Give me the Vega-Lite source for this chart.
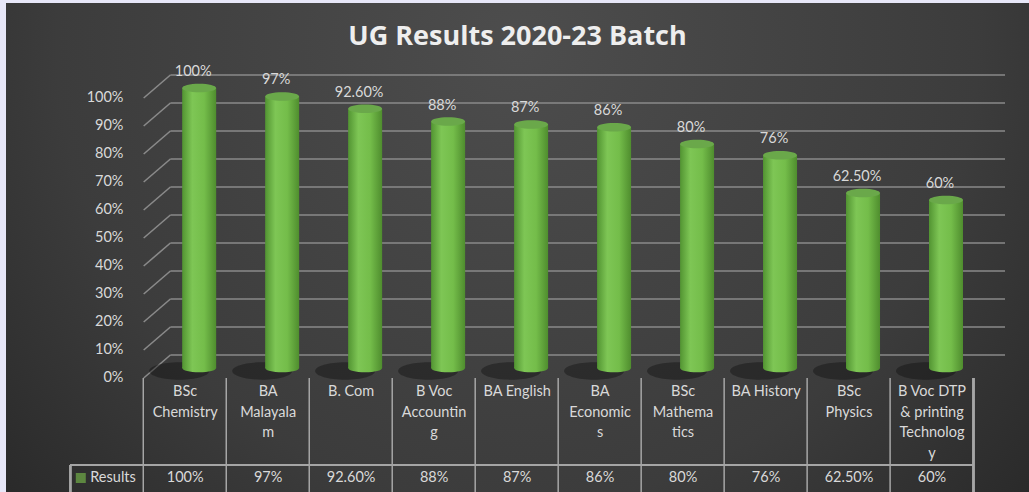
{
  "$schema": "https://vega.github.io/schema/vega-lite/v6.json",
  "width": 1023,
  "height": 489,
  "padding": {"left": 6, "top": 3, "right": 0, "bottom": 0},
  "autosize": {"type": "none"},
  "background": "#e7e7f8",
  "config": {
    "font": "Lato",
    "view": {
      "stroke": null,
      "fill": {"gradient": "radial", "x1": 0.5, "y1": 0.3, "r1": 0, "x2": 0.5, "y2": 0.3, "r2": 0.75,
        "stops": [{"offset": 0, "color": "#4d4d4d"}, {"offset": 0.6, "color": "#3c3c3c"}, {"offset": 1, "color": "#232323"}]}
    }
  },
  "datasets": {
    "results": [
      {"idx": 0, "label": "BSc\nChemistry", "v": 100, "pct": "100%"},
      {"idx": 1, "label": "BA\nMalayala\nm", "v": 97, "pct": "97%"},
      {"idx": 2, "label": "B. Com", "v": 92.6, "pct": "92.60%"},
      {"idx": 3, "label": "B Voc\nAccountin\ng", "v": 88, "pct": "88%"},
      {"idx": 4, "label": "BA English", "v": 87, "pct": "87%"},
      {"idx": 5, "label": "BA\nEconomic\ns", "v": 86, "pct": "86%"},
      {"idx": 6, "label": "BSc\nMathema\ntics", "v": 80, "pct": "80%"},
      {"idx": 7, "label": "BA History", "v": 76, "pct": "76%"},
      {"idx": 8, "label": "BSc\nPhysics", "v": 62.5, "pct": "62.50%"},
      {"idx": 9, "label": "B Voc DTP\n& printing\nTechnolog\ny", "v": 60, "pct": "60%"}
    ],
    "grid": [{"g": 0}, {"g": 10}, {"g": 20}, {"g": 30}, {"g": 40}, {"g": 50}, {"g": 60}, {"g": 70}, {"g": 80}, {"g": 90}, {"g": 100}]
  },
  "data": {"name": "results"},
  "layer": [
    {
      "data": {"name": "grid"},
      "mark": {"type": "rule", "color": "#8a8a8a", "strokeWidth": 1.6, "yOffset": -13, "y2Offset": -13},
      "encoding": {
        "x": {"datum": -0.178, "type": "quantitative", "scale": {"domain": [-2.099, 10.1086], "nice": false, "zero": false}, "axis": null},
        "x2": {"datum": 9.88},
        "y": {"field": "g", "type": "quantitative", "scale": {"domain": [-44.286, 130.357], "nice": false, "zero": false},
          "axis": {"values": [0, 10, 20, 30, 40, 50, 60, 70, 80, 90, 100], "labelExpr": "datum.value + '%'", "grid": false, "ticks": false, "domain": false,
            "offset": -117, "labelPadding": 0, "tickSize": 0, "labelOffset": 10, "labelFont": "Lato", "labelFontSize": 14.5, "labelColor": "#d9d9d9", "title": null}},
        "y2": {"field": "g"}
      }
    },
    {
      "data": {"name": "grid"},
      "mark": {"type": "rule", "color": "#8a8a8a", "strokeWidth": 1.6, "yOffset": 10, "y2Offset": -13},
      "encoding": {
        "x": {"datum": -0.5, "type": "quantitative"},
        "x2": {"datum": -0.178},
        "y": {"field": "g", "type": "quantitative"},
        "y2": {"field": "g"}
      }
    },
    {
      "data": {"values": [{"title": "UG Results 2020-23 Batch"}]},
      "mark": {"type": "text", "font": "Open Sans", "fontSize": 27, "fontWeight": "bold", "color": "#eeeeee", "align": "center", "baseline": "alphabetic"},
      "encoding": {
        "x": {"datum": 4.005, "type": "quantitative"},
        "y": {"datum": 115.4, "type": "quantitative"},
        "text": {"field": "title"}
      }
    },
    {
      "mark": {"type": "point", "shape": "M-1,0A1,0.29,0,1,0,1,0A1,0.29,0,1,0,-1,0Z", "filled": true, "color": "#0d0d0d", "opacity": 0.4, "size": 3600, "xOffset": -6, "yOffset": 3, "strokeWidth": 0},
      "encoding": {
        "x": {"field": "idx", "type": "quantitative"},
        "y": {"datum": 0, "type": "quantitative"}
      }
    },
    {
      "mark": {"type": "bar", "width": 34, "xOffset": 14,
        "color": {"gradient": "linear", "x1": 0, "y1": 0, "x2": 1, "y2": 0,
          "stops": [{"offset": 0, "color": "#529432"}, {"offset": 0.3, "color": "#7ec655"}, {"offset": 0.65, "color": "#74bd4a"}, {"offset": 1, "color": "#4f8d2e"}]}},
      "encoding": {
        "x": {"field": "idx", "type": "quantitative"},
        "y": {"field": "v", "type": "quantitative"},
        "y2": {"datum": 0}
      }
    },
    {
      "mark": {"type": "point", "shape": "M-1,0A1,0.25,0,1,0,1,0A1,0.25,0,1,0,-1,0Z", "filled": true, "size": 1156, "xOffset": 14, "opacity": 1, "strokeWidth": 0,
        "color": {"gradient": "linear", "x1": 0, "y1": 0, "x2": 1, "y2": 0,
          "stops": [{"offset": 0, "color": "#529432"}, {"offset": 0.3, "color": "#7ec655"}, {"offset": 0.65, "color": "#74bd4a"}, {"offset": 1, "color": "#4f8d2e"}]}},
      "encoding": {
        "x": {"field": "idx", "type": "quantitative"},
        "y": {"datum": 0, "type": "quantitative"}
      }
    },
    {
      "mark": {"type": "point", "shape": "M-1,0A1,0.25,0,1,0,1,0A1,0.25,0,1,0,-1,0Z", "filled": true, "size": 1156, "xOffset": 14, "opacity": 1, "strokeWidth": 0, "color": "#6aa84a"},
      "encoding": {
        "x": {"field": "idx", "type": "quantitative"},
        "y": {"field": "v", "type": "quantitative"}
      }
    },
    {
      "mark": {"type": "text", "xOffset": 8, "dy": -16, "baseline": "middle", "align": "center", "fontSize": 14.5, "font": "Lato", "color": "#d9d9d9"},
      "encoding": {
        "x": {"field": "idx", "type": "quantitative"},
        "y": {"field": "v", "type": "quantitative"},
        "text": {"field": "pct"}
      }
    },
    {
      "mark": {"type": "rule", "color": "#a6a6a6", "strokeWidth": 1.5, "xOffset": -41.9},
      "encoding": {
        "x": {"field": "idx", "type": "quantitative"},
        "y": {"datum": -3.571, "type": "quantitative"},
        "y2": {"datum": -44.286}
      }
    },
    {
      "mark": {"type": "rule", "color": "#a6a6a6", "strokeWidth": 1.5},
      "encoding": {
        "x": {"datum": 9.5, "type": "quantitative"},
        "y": {"datum": -3.571, "type": "quantitative"},
        "y2": {"datum": -44.286}
      }
    },
    {
      "mark": {"type": "rule", "color": "#a6a6a6", "strokeWidth": 1.5},
      "encoding": {
        "x": {"datum": -1.383, "type": "quantitative"},
        "y": {"datum": -34.643, "type": "quantitative"},
        "y2": {"datum": -44.286}
      }
    },
    {
      "mark": {"type": "rule", "color": "#a6a6a6", "strokeWidth": 1.5},
      "encoding": {
        "x": {"datum": -1.383, "type": "quantitative"},
        "x2": {"datum": 9.5},
        "y": {"datum": -34.643, "type": "quantitative"}
      }
    },
    {
      "mark": {"type": "text", "baseline": "top", "align": "center", "fontSize": 14.5, "font": "Lato", "color": "#d9d9d9", "lineBreak": "\n", "lineHeight": 20.5},
      "encoding": {
        "x": {"field": "idx", "type": "quantitative"},
        "y": {"datum": -6.2, "type": "quantitative"},
        "text": {"field": "label"}
      }
    },
    {
      "mark": {"type": "text", "baseline": "middle", "align": "center", "fontSize": 14.5, "font": "Lato", "color": "#d9d9d9"},
      "encoding": {
        "x": {"field": "idx", "type": "quantitative"},
        "y": {"datum": -39.29, "type": "quantitative"},
        "text": {"field": "pct"}
      }
    },
    {
      "data": {"values": [{"series": "Results"}]},
      "mark": {"type": "point", "shape": "square", "filled": true, "size": 100, "color": "#70ad47", "strokeWidth": 0},
      "encoding": {
        "x": {"datum": -1.258, "type": "quantitative"},
        "y": {"datum": -39.29, "type": "quantitative"}
      }
    },
    {
      "data": {"values": [{"series": "Results"}]},
      "mark": {"type": "text", "baseline": "middle", "align": "left", "fontSize": 14.5, "font": "Lato", "color": "#d9d9d9"},
      "encoding": {
        "x": {"datum": -1.144, "type": "quantitative"},
        "y": {"datum": -39.29, "type": "quantitative"},
        "text": {"field": "series"}
      }
    }
  ]
}
